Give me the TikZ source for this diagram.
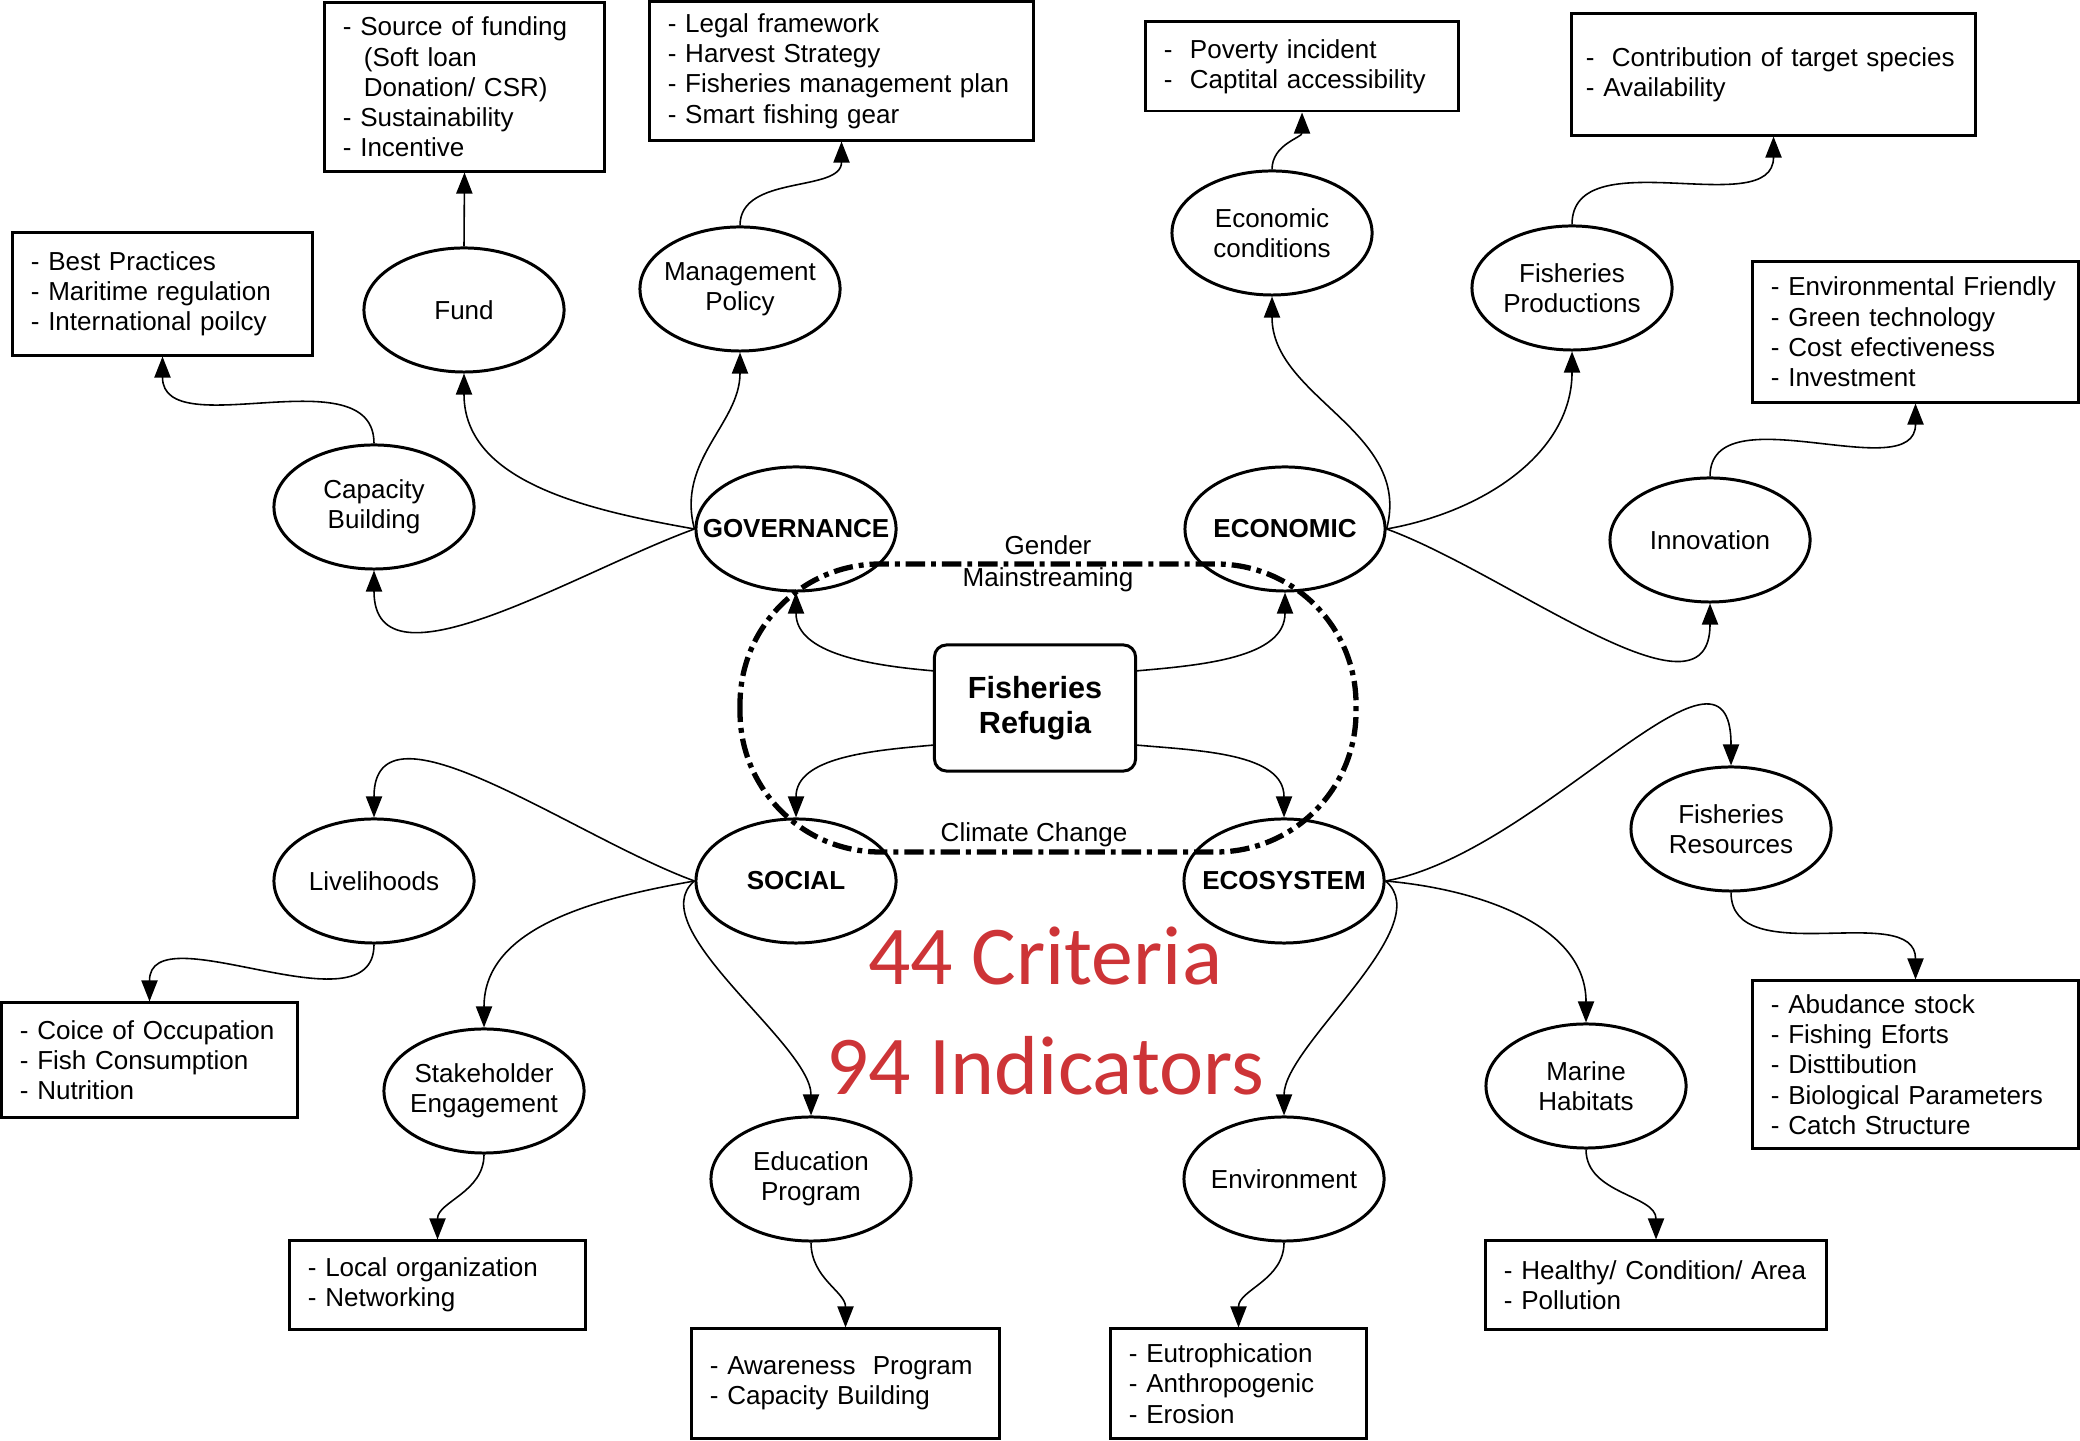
\documentclass[tikz,border=0pt]{standalone}
\usepackage{fontspec}
\setmainfont{Liberation Sans}
\newfontfamily\redfont{Carlito}
\usetikzlibrary{shapes.geometric,arrows.meta}
\definecolor{critred}{RGB}{205,52,55}
\tikzset{crit/.style={ellipse,draw,line width=0.85pt,minimum width=2cm,minimum height=1.24cm,inner xsep=-0.3cm,inner ysep=0pt,align=center},
pillar/.style={crit,font=\fontsize{7.4}{8.6}\selectfont\bfseries},
ind/.style={draw,line width=0.85pt,align=left,inner xsep=0.18cm,inner ysep=0pt},
link/.style={line width=0.45pt,-{Triangle[length=6pt,width=4.6pt]}}}
\begin{document}
\begin{tikzpicture}[x=0.01cm,y=0.01cm,font=\fontsize{7.4}{8.6}\selectfont]
\useasboundingbox(0,0)rectangle(2080,1440);
\node[pillar](gov)at(796,911){GOVERNANCE};\node[pillar](econ)at(1285,911){ECONOMIC};
\node[pillar](soc)at(796,559){SOCIAL};\node[pillar](ecosys)at(1284,559){ECOSYSTEM};
\node[draw,rounded corners=0.12cm,line width=0.85pt,minimum width=2.01cm,minimum height=1.26cm,align=center,font=\fontsize{8.7}{10}\selectfont\bfseries](refugia)at(1035,732){Fisheries\\Refugia};
\node[crit](fund)at(464,1130){Fund};\node[crit](mgmt)at(740,1151){Management\\Policy};\node[crit](capb)at(374,933){Capacity\\Building};
\node[crit](econd)at(1272,1207){Economic\\conditions};\node[crit](fprod)at(1572,1152){Fisheries\\Productions};\node[crit](innov)at(1710,900){Innovation};
\node[crit](liveh)at(374,559){Livelihoods};\node[crit](stake)at(484,349){Stakeholder\\Engagement};\node[crit](educ)at(811,261){Education\\Program};
\node[crit](fres)at(1731,611){Fisheries\\Resources};\node[crit](marine)at(1586,354){Marine\\Habitats};\node[crit](envi)at(1284,261){Environment};
\node[ind,text width=2.43cm,minimum height=1.68cm](fundbox)at(464.5,1353){- Source of funding\\\hspace*{0.21cm}(Soft loan\\\hspace*{0.21cm}Donation/ CSR)\\- Sustainability\\- Incentive};
\node[ind,text width=3.47cm,minimum height=1.38cm](polbox)at(841.5,1369){- Legal framework\\- Harvest Strategy\\- Fisheries management plan\\- Smart fishing gear};
\node[ind,text width=2.63cm,minimum height=1.22cm](capbox)at(162.5,1146){- Best Practices\\- Maritime regulation\\- International poilcy};
\node[ind,text width=2.76cm,minimum height=0.89cm](econbox)at(1302,1373.5){-\ \ Poverty incident\\-\ \ Captital accessibility};
\node[ind,text width=3.75cm,inner xsep=0.14cm,minimum height=1.21cm](prodbox)at(1773.5,1365.5){-\ \ Contribution of target species\\- Availability};
\node[ind,text width=2.89cm,minimum height=1.40cm](innobox)at(1915.5,1108){- Environmental Friendly\\- Green technology\\- Cost efectiveness\\- Investment};
\node[ind,text width=2.59cm,minimum height=1.14cm](livebox)at(149.5,380){- Coice of Occupation\\- Fish Consumption\\- Nutrition};
\node[ind,text width=2.59cm,minimum height=0.88cm](stakebox)at(437.5,155){- Local organization\\- Networking};
\node[ind,text width=2.71cm,minimum height=1.09cm](edubox)at(845.5,56.5){- Awareness\ \ Program\\- Capacity Building};
\node[ind,text width=2.19cm,minimum height=1.09cm](envbox)at(1238.5,56.5){- Eutrophication\\- Anthropogenic\\- Erosion};
\node[ind,text width=3.04cm,minimum height=0.88cm](marbox)at(1656,155){- Healthy/ Condition/ Area\\- Pollution};
\node[ind,text width=2.89cm,minimum height=1.67cm](resbox)at(1915.5,375.5){- Abudance stock\\- Fishing Eforts\\- Disttibution\\- Biological Parameters\\- Catch Structure};
\node[align=center,font=\fontsize{7.4}{9.1}\selectfont](gender)at(1048,876){Gender\\Mainstreaming};
\node(climate)at(1034,605){Climate Change};
\node[text=critred,font=\redfont\fontsize{23.8}{28}\selectfont,anchor=base](ncrit)at(1045,455){44 Criteria};
\node[text=critred,font=\redfont\fontsize{23.8}{28}\selectfont,anchor=base](nind)at(1045,345){94 Indicators};
\draw[link](refugia.160)to[out=175,in=-90](gov.south);\draw[link](refugia.20)to[out=5,in=-90](econ.south);
\draw[link](refugia.200)to[out=185,in=90](soc.north);\draw[link](refugia.-20)to[out=-5,in=90](ecosys.north);
\draw[link](gov.west)to[out=200,in=-90](capb.south);\draw[link](gov.west)to[out=170,in=-90](fund.south);\draw[link](gov.west)to[out=105,in=-90](mgmt.south);
\draw[link](fund.north)--(fundbox.south);\draw[link](mgmt.north)to[out=90,in=-90](polbox.south);\draw[link](capb.north)to[out=90,in=-90](capbox.south);
\draw[link](econ.east)to[out=75,in=-90](econd.south);\draw[link](econ.east)to[out=10,in=-90](fprod.south);\draw[link](econ.east)to[out=-20,in=-90](innov.south);
\draw[link](econd.north)to[out=90,in=-90](econbox.south);\draw[link](fprod.north)to[out=90,in=-90](prodbox.south);\draw[link](innov.north)to[out=90,in=-90](innobox.south);
\draw[link](soc.west)to[out=160,in=90](liveh.north);\draw[link](soc.west)to[out=190,in=90](stake.north);\draw[link](soc.west)to[out=220,in=90,looseness=0.7](educ.north);
\draw[link](liveh.south)to[out=-90,in=90](livebox.north);\draw[link](stake.south)to[out=-90,in=90](stakebox.north);\draw[link](educ.south)to[out=-90,in=90](edubox.north);
\draw[link](ecosys.east)to[out=10,in=90,looseness=1.1](fres.north);\draw[link](ecosys.east)to[out=-5,in=90](marine.north);\draw[link](ecosys.east)to[out=-40,in=90,looseness=0.7](envi.north);
\draw[link](fres.south)to[out=-90,in=90](resbox.north);\draw[link](marine.south)to[out=-90,in=90](marbox.north);\draw[link](envi.south)to[out=-90,in=90](envbox.north);
\draw[line width=1.5pt,dash pattern=on 5.5pt off 1.7pt on 1.4pt off 1.7pt,rounded corners=1.4cm](740,588)rectangle(1356,876);
\end{tikzpicture}
\end{document}
